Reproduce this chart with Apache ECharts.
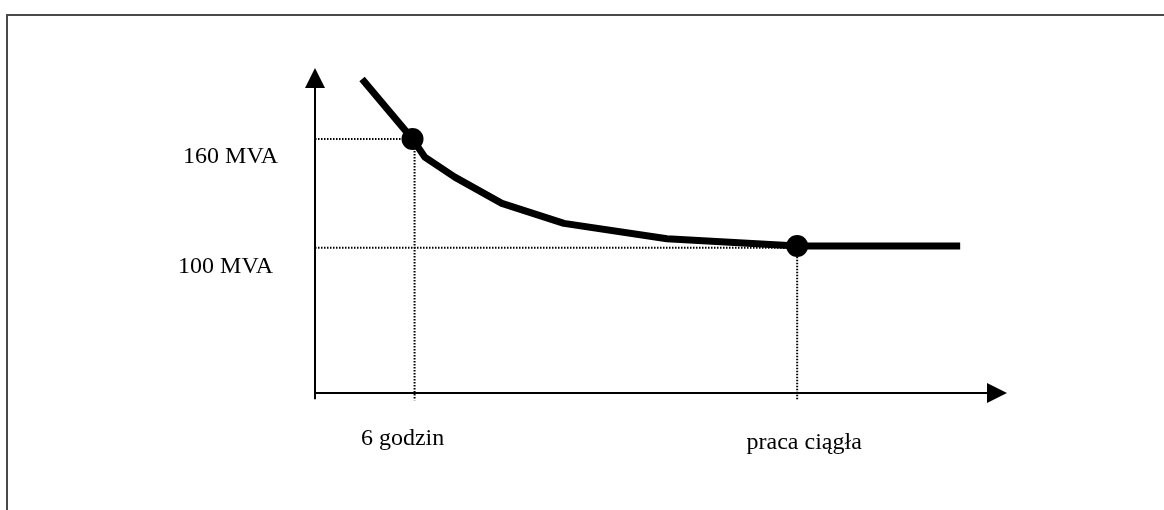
<!DOCTYPE html>
<html>
<head>
<meta charset="utf-8">
<script src="https://cdn.jsdelivr.net/npm/echarts@6/dist/echarts.min.js"></script>
<style>html,body{margin:0;padding:0;background:#fff}#c{width:1164px;height:510px}</style>
</head>
<body>
<div id="c"></div>
<script>
// Curve (schematic: time units vs. power in MVA)
const curveX = [6.9, 14.3, 16.1, 20.5, 27.4, 36.5, 51.6, 70.7, 94.6];
const curveY = [193, 160, 150, 139, 124.5, 113.5, 105, 101, 101];
// Highlighted points
const dotX = [14.3, 70.7];
const dotY = [160, 101];
// Guide (dotted) lines
const guideLevelY = [160, 100];
const guideLevelEndX = [14.3, 70.7];
const guideTimeX = [14.6, 70.7];
const guideTimeTopY = [160, 100];
const guideBottomY = 16;
// Labels
const yLabels = ['160 MVA', '100 MVA'];
const xLabels = ['6 godzin', 'praca ciągła'];
const axisMin = { x: 0, y: 20 };
const axisMax = { x: 100, y: 193.6 };

const FONT = '"Liberation Serif", "Times New Roman", serif';
const dotted = { color: '#000', width: 2, type: [1.5, 1.5], opacity: 1 };

const series = [];
// horizontal guides
guideLevelY.forEach((y, i) => {
  series.push({ type: 'line', data: [[axisMin.x, y], [guideLevelEndX[i], y]], symbol: 'none', clip: false, lineStyle: dotted, silent: true, z: 1 });
});
// vertical guides
guideTimeX.forEach((x, i) => {
  series.push({ type: 'line', data: [[x, guideTimeTopY[i]], [x, guideBottomY]], symbol: 'none', clip: false, lineStyle: dotted, silent: true, z: 1 });
});
// y-axis stub below x axis
series.push({ type: 'line', data: [[axisMin.x, axisMin.y], [axisMin.x, guideBottomY + 0.5]], symbol: 'none', clip: false, lineStyle: { color: '#000', width: 2 }, silent: true });
// main curve
series.push({
  type: 'line', data: curveX.map((x, i) => [x, curveY[i]]), symbol: 'none', clip: false,
  lineStyle: { color: '#000', width: 7, join: 'round', cap: 'butt', opacity: 1 }, z: 3
});
// dots
series.push({
  type: 'scatter', data: dotX.map((x, i) => [x, dotY[i]]), symbol: 'circle', symbolSize: 22,
  itemStyle: { color: '#000', opacity: 1 }, clip: false, z: 5
});
// y labels
const yLabelOffsets = [[-37, 18], [-42, 19]];
series.push({
  type: 'scatter', symbolSize: 0, clip: false, itemStyle: { opacity: 1 },
  data: yLabels.map((t, i) => ({ value: [axisMin.x, guideLevelY[i]], name: t,
    label: { show: true, formatter: t, position: 'left', distance: 0, offset: yLabelOffsets[i], fontFamily: FONT, fontSize: 24, color: '#000' } }))
});
// x labels
const xLabelOffsets = [[-12, 46], [7, 50]];
series.push({
  type: 'scatter', symbolSize: 0, clip: false, itemStyle: { opacity: 1 },
  data: xLabels.map((t, i) => ({ value: [guideTimeX[i], axisMin.y], name: t,
    label: { show: true, formatter: t, position: 'inside', offset: xLabelOffsets[i], fontFamily: FONT, fontSize: 24, color: '#000' } }))
});

const chart = echarts.init(document.getElementById('c'), null, { renderer: 'canvas' });
chart.setOption({
  animation: false,
  backgroundColor: '#fff',
  grid: { left: 315, right: 167, top: 78, bottom: 117, containLabel: false, outerBoundsMode: 'none' },
  xAxis: {
    type: 'value', min: axisMin.x, max: axisMax.x,
    axisLine: { show: true, onZero: false, symbol: ['none', 'triangle'], symbolSize: [20, 20], lineStyle: { color: '#000', width: 2 } },
    axisTick: { show: false }, axisLabel: { show: false }, splitLine: { show: false }
  },
  yAxis: {
    type: 'value', min: axisMin.y, max: axisMax.y,
    axisLine: { show: true, onZero: false, symbol: ['none', 'triangle'], symbolSize: [20, 20], lineStyle: { color: '#000', width: 2 } },
    axisTick: { show: false }, axisLabel: { show: false }, splitLine: { show: false }
  },
  graphic: [{
    type: 'rect', shape: { x: 7, y: 15, width: 1300, height: 700 },
    style: { fill: 'none', stroke: '#4a4a4a', lineWidth: 2 }, silent: true, z: -1
  }],
  series: series
});
</script>
</body>
</html>
